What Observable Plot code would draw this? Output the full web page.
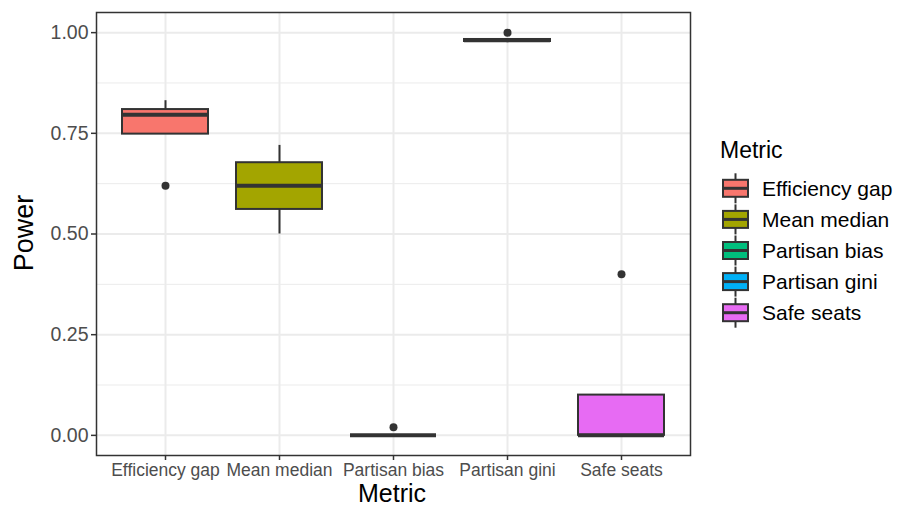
<!DOCTYPE html>
<html><head><meta charset="utf-8">
<script src="https://cdn.jsdelivr.net/npm/d3@7"></script>
<script src="https://cdn.jsdelivr.net/npm/@observablehq/plot@0.6"></script>
<style>body{margin:0;background:#fff} #chart svg{display:block}</style>
</head><body><div id="chart"></div>
<script>
const metrics = ["Efficiency gap", "Mean median", "Partisan bias", "Partisan gini", "Safe seats"];
const lowerWhisker = [0.748, 0.500, 0.000, 0.975, 0.000];
const q1 = [0.748, 0.561, 0.000, 0.978, 0.000];
const median = [0.796, 0.620, 0.000, 0.981, 0.000];
const q3 = [0.809, 0.677, 0.000, 0.983, 0.100];
const upperWhisker = [0.831, 0.720, 0.000, 0.983, 0.100];
const outlierMetric = ["Efficiency gap", "Partisan bias", "Partisan gini", "Safe seats"];
const outlierValue = [0.62, 0.02, 1.00, 0.40];
const yTicks = [0, 0.25, 0.5, 0.75, 1];
const yMinor = [0.125, 0.375, 0.625, 0.875];
const palette = ["#F8766D", "#A3A500", "#00BF7D", "#00B0F6", "#E76BF3"];

const boxes = metrics.map((m, i) => ({metric: m, lo: lowerWhisker[i], q1: q1[i], med: median[i], q3: q3[i], hi: upperWhisker[i]}));
const outliers = outlierMetric.map((m, i) => ({metric: m, value: outlierValue[i]}));

const FONT = "Liberation Sans, Arial, Helvetica, sans-serif";
const W = 897, H = 508;
const chart = Plot.plot({
  width: W, height: H,
  marginLeft: 96, marginRight: 207, marginTop: 12, marginBottom: 53,
  style: {fontFamily: FONT, background: "#fff"},
  x: {domain: metrics, paddingInner: 0.25, paddingOuter: 0.225, label: null},
  y: {domain: [-0.05, 1.05], label: null},
  color: {domain: metrics, range: palette},
  marks: [
    Plot.ruleY(yMinor, {stroke: "#EBEBEB", strokeWidth: 1}),
    Plot.ruleY(yTicks, {stroke: "#EBEBEB", strokeWidth: 2}),
    Plot.ruleX(metrics, {x: d => d, stroke: "#EBEBEB", strokeWidth: 2}),
    Plot.ruleX(boxes, {x: "metric", y1: "lo", y2: "q1", stroke: "#333333", strokeWidth: 2}),
    Plot.ruleX(boxes, {x: "metric", y1: "q3", y2: "hi", stroke: "#333333", strokeWidth: 2}),
    Plot.barY(boxes, {x: "metric", y1: "q1", y2: "q3", fill: "metric", stroke: "#333333", strokeWidth: 2}),
    Plot.tickY(boxes, {x: "metric", y: "med", stroke: "#333333", strokeWidth: 4}),
    Plot.dot(outliers, {x: "metric", y: "value", r: 4, fill: "#333333", stroke: "none"}),
    Plot.frame({stroke: "#333333", strokeWidth: 1.5}),
    Plot.axisY(yTicks, {tickFormat: d3.format(".2f"), tickSize: 5, tickPadding: 3, fontSize: 19.5, color: "#4d4d4d", stroke: "#333333", strokeWidth: 1.5, label: null}),
    Plot.axisX(metrics, {tickSize: 5, tickPadding: 3, fontSize: 17.5, color: "#4d4d4d", stroke: "#333333", strokeWidth: 1.5, label: null})
  ]
});
document.getElementById("chart").appendChild(chart);

const svg = d3.select(chart);
const color = chart.scale("color");
// axis titles
svg.append("text").attr("x", 392).attr("y", 502).attr("text-anchor", "middle")
  .attr("font-family", FONT).attr("font-size", 25).attr("fill", "#000").text("Metric");
svg.append("text").attr("transform", "translate(33,233) rotate(-90)").attr("text-anchor", "middle")
  .attr("font-family", FONT).attr("font-size", 27).attr("fill", "#000").text("Power");
// legend
const lg = svg.append("g").attr("font-family", FONT).attr("text-anchor", "start");
lg.append("text").attr("x", 720).attr("y", 158).attr("font-size", 23).attr("fill", "#000").text("Metric");
metrics.forEach((m, i) => {
  const cy = 188.3 + i * 31.1, cx = 735.5;
  const g = lg.append("g");
  g.append("line").attr("x1", cx).attr("x2", cx).attr("y1", cy - 15).attr("y2", cy + 15).attr("stroke", "#333").attr("stroke-width", 2);
  g.append("rect").attr("x", 723).attr("y", cy - 8.5).attr("width", 25).attr("height", 17)
    .attr("fill", color.apply(m)).attr("stroke", "#333").attr("stroke-width", 2);
  g.append("line").attr("x1", 723).attr("x2", 748).attr("y1", cy).attr("y2", cy).attr("stroke", "#333").attr("stroke-width", 3);
  g.append("text").attr("x", 762).attr("y", cy).attr("dy", "0.35em").attr("font-size", 21).attr("fill", "#000").text(m);
});
</script></body></html>
